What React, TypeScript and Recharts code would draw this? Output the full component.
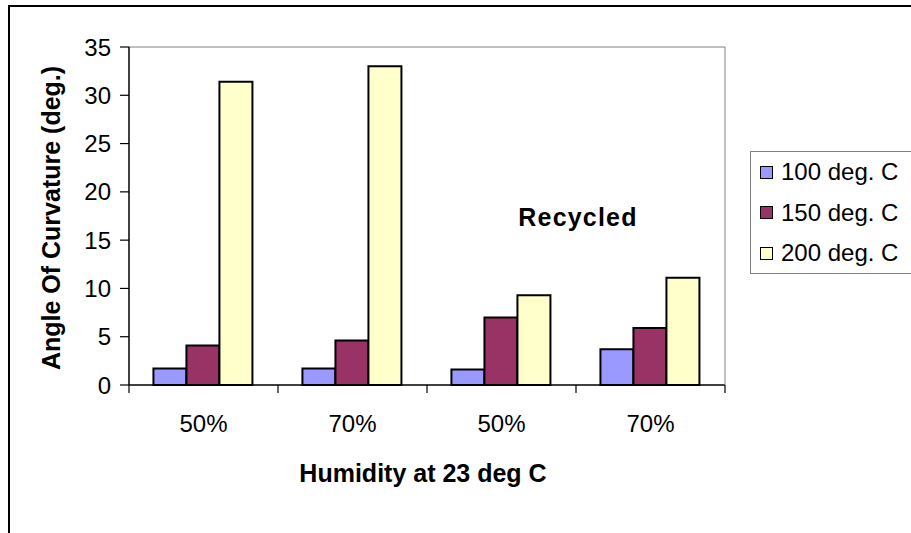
import React from 'react';
import { BarChart, Bar, XAxis, YAxis, ReferenceLine, Legend, Customized } from 'recharts';

const categories = ['50%', '70%', '50%', '70%'];
const series100 = [1.7, 1.7, 1.6, 3.7];
const series150 = [4.1, 4.6, 7.0, 5.9];
const series200 = [31.4, 33.0, 9.3, 11.1];
const yTicks = [0, 5, 10, 15, 20, 25, 30, 35];
const seriesKeys = ['s100', 's150', 's200'];
const seriesNames = ['100 deg. C', '150 deg. C', '200 deg. C'];
const seriesColors = ['#9999FF', '#993366', '#FFFFCC'];
const yTitle = 'Angle Of Curvature (deg.)';
const xTitle = 'Humidity at 23 deg C';
const annotation = 'Recycled';

const data = categories.map((c, i) => ({
  cat: c,
  s100: series100[i],
  s150: series150[i],
  s200: series200[i],
}));

const FONT = '"Liberation Sans", Arial, sans-serif';

const renderLegend = () => (
  <div
    style={{
      border: '1px solid #808080',
      height: 123,
      width: 200,
      boxSizing: 'border-box',
      background: '#fff',
      fontFamily: FONT,
      fontSize: 24,
      color: '#000',
      textAlign: 'left',
    }}
  >
    {seriesNames.map((n, i) => (
      <div key={n} style={{ height: 40.5, display: 'flex', alignItems: 'center' }}>
        <span
          style={{
            display: 'inline-block',
            width: 13,
            height: 13,
            boxSizing: 'border-box',
            border: '1.5px solid #000',
            background: seriesColors[i],
            marginLeft: 9,
            marginRight: 8,
          }}
        />
        <span style={{ lineHeight: '24px' }}>{n}</span>
      </div>
    ))}
  </div>
);

const XTick = (props: any) => {
  const { x, y, payload, index, visibleTicksCount } = props;
  const half = payload && typeof payload.offset === 'number' ? payload.offset : 0;
  const last = index === (visibleTicksCount ?? categories.length) - 1;
  return (
    <g>
      <text
        x={x}
        y={y + 47}
        textAnchor="middle"
        fontFamily={FONT}
        fontSize={24}
        fill="#000"
      >
        {payload.value}
      </text>
      {half > 0 && (
        <line x1={x - half} x2={x - half} y1={y} y2={y + 8} stroke="#000" strokeWidth={1.2} />
      )}
      {half > 0 && last && (
        <line x1={x + half} x2={x + half} y1={y} y2={y + 8} stroke="#000" strokeWidth={1.2} />
      )}
    </g>
  );
};

const Texts = () => (
  <g fontFamily={FONT} fill="#000">
    <text
      x={60}
      y={218}
      transform="rotate(-90 60 218)"
      textAnchor="middle"
      fontWeight="bold"
      fontSize={25}
    >
      {yTitle}
    </text>
    <text x={423} y={482} textAnchor="middle" fontWeight="bold" fontSize={25}>
      {xTitle}
    </text>
    <text x={578} y={226} textAnchor="middle" fontWeight="bold" fontSize={25} letterSpacing={1.2}>
      {annotation}
    </text>
  </g>
);

export default function App() {
  return (
    <div
      style={{
        position: 'absolute',
        left: 0,
        top: 0,
        width: 911,
        height: 533,
        overflow: 'hidden',
        background: '#fff',
      }}
    >
      <div
        style={{
          position: 'absolute',
          left: 8,
          top: 5,
          width: 1200,
          height: 1200,
          border: '2px solid #000',
          boxSizing: 'border-box',
        }}
      />
      <div style={{ position: 'absolute', left: 0, top: 0 }}>
        <BarChart
          width={911}
          height={533}
          data={data}
          margin={{ top: 47, right: 185, bottom: 88, left: 69 }}
          barCategoryGap="16.4%"
          barGap={0}
        >
          <XAxis
            dataKey="cat"
            height={60}
            axisLine={{ stroke: '#000', strokeWidth: 1.5 }}
            tickLine={false}
            tickSize={0}
            tickMargin={0}
            tick={<XTick />}
            interval={0}
          />
          <YAxis
            width={60}
            domain={[0, 35]}
            ticks={yTicks}
            interval={0}
            axisLine={{ stroke: '#000', strokeWidth: 1.5 }}
            tickLine={{ stroke: '#000', strokeWidth: 1.2 }}
            tickSize={9}
            tickMargin={9}
            tick={{ fill: '#000', fontSize: 24, fontFamily: FONT }}
          />
          <YAxis
            yAxisId="r"
            orientation="right"
            width={1}
            domain={[0, 35]}
            axisLine={{ stroke: '#808080', strokeWidth: 1 }}
            tick={false}
            tickLine={false}
          />
          <ReferenceLine y={35} stroke="#808080" strokeWidth={1} />
          {seriesKeys.map((k, i) => (
            <Bar
              key={k}
              dataKey={k}
              name={seriesNames[i]}
              fill={seriesColors[i]}
              stroke="#000"
              strokeWidth={2}
              isAnimationActive={false}
            />
          ))}
          <Legend
            verticalAlign="middle"
            content={renderLegend}
            wrapperStyle={{ position: 'absolute', left: 750, top: 151, width: 200, height: 123 }}
          />
          <Customized component={Texts} />
        </BarChart>
      </div>
    </div>
  );
}
